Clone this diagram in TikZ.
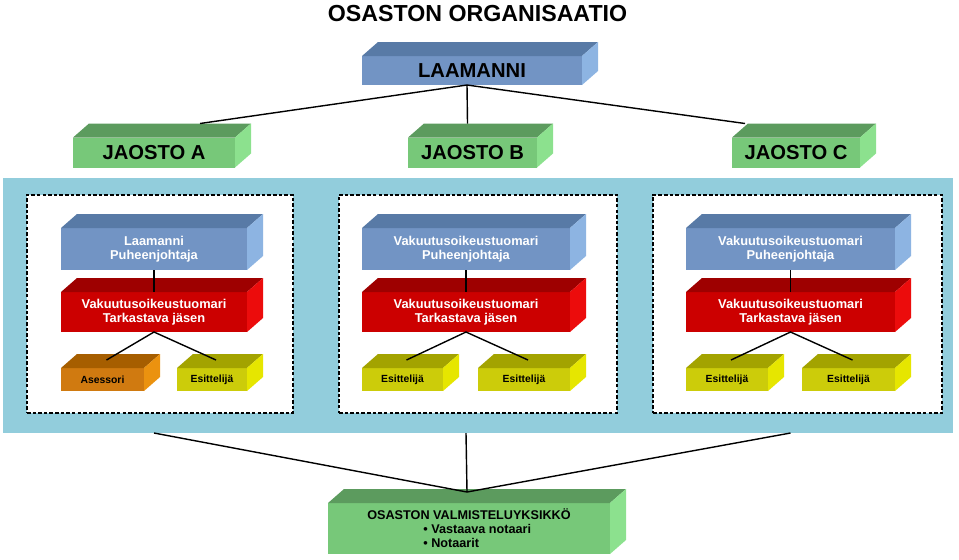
\documentclass[tikz,border=0pt]{standalone}
\usepackage{fontspec}
\setmainfont{Liberation Sans}
\usetikzlibrary{calc}

\definecolor{blueFront}{RGB}{114,148,196}
\definecolor{blueTop}{RGB}{88,122,166}
\definecolor{blueSide}{RGB}{141,180,226}
\definecolor{greenFront}{RGB}{119,200,121}
\definecolor{greenTop}{RGB}{92,155,94}
\definecolor{greenSide}{RGB}{140,225,142}
\definecolor{redFront}{RGB}{204,0,0}
\definecolor{redTop}{RGB}{158,0,0}
\definecolor{redSide}{RGB}{236,12,12}
\definecolor{orangeFront}{RGB}{208,122,16}
\definecolor{orangeTop}{RGB}{166,94,0}
\definecolor{orangeSide}{RGB}{235,146,15}
\definecolor{yellowFront}{RGB}{204,204,10}
\definecolor{yellowTop}{RGB}{163,163,0}
\definecolor{yellowSide}{RGB}{230,230,0}
\definecolor{bandBlue}{RGB}{146,205,220}

\begin{document}
\begin{tikzpicture}[x = 0.02cm, y = -0.02cm]
			% Fix the canvas to the size of the sheet
			\useasboundingbox (0, 0) rectangle (959, 559);

			% Box styles
			\tikzset{
				wh/.style 2 args = {minimum width = #1*0.02cm, minimum height = #2*0.02cm},
				slab/.style = {rectangle, inner sep = 0pt, outer sep = 0pt, align = center, fill = #1Front},
				big/.style = {font = \fontsize{11.5}{13}\selectfont\bfseries},
				mid/.style = {font = \fontsize{7.3}{7.8}\selectfont\bfseries, text = white},
				small/.style = {font = \fontsize{5.9}{7}\selectfont\bfseries},
				panel/.style = {draw, fill = white, dash pattern = on 2pt off 1.2pt, line width = 0.6pt, inner sep = 0pt, outer sep = 0pt},
				link/.style = {black, line width = 0.8pt}
			}

			% Title
			\node[font = \fontsize{13.2}{15}\selectfont\bfseries] (title) at (477.5, 14) {OSASTON ORGANISAATIO};

			% Head and the three sections
			\node[slab = blue, big, wh = {220}{29}] (laamanni) at (472, 70.5) {LAAMANNI};
			\node[slab = green, big, wh = {162}{30}] (jaostoA) at (154, 152.5) {JAOSTO A};
			\node[slab = green, big, wh = {129}{30}] (jaostoB) at (472.5, 152.5) {JAOSTO B};
			\node[slab = green, big, wh = {128}{30}] (jaostoC) at (796, 152.5) {JAOSTO C};

			% Light blue band with the dashed panels
			\node[fill = bandBlue, inner sep = 0pt, outer sep = 0pt, wh = {950}{255}] (band) at (478, 305.5) {};
			\node[panel, wh = {266}{218}] (panelA) at (160, 304) {};
			\node[panel, wh = {278}{218}] (panelB) at (478, 304) {};
			\node[panel, wh = {289}{218}] (panelC) at (797.5, 304) {};

			% Panel A
			\node[slab = blue, mid, wh = {186}{42}] (puhA) at (154, 249) {Laamanni\\Puheenjohtaja};
			\node[slab = red, mid, wh = {186}{40}] (tarA) at (154, 312) {Vakuutusoikeustuomari\\Tarkastava jäsen};
			\node[slab = orange, small, wh = {83}{23}] (subA1) at (102.5, 379.5) {Asessori};
			\node[slab = yellow, small, wh = {70}{23}] (subA2) at (212, 379.5) {Esittelijä};

			% Panel B
			\node[slab = blue, mid, wh = {208}{42}] (puhB) at (466, 249) {Vakuutusoikeustuomari\\Puheenjohtaja};
			\node[slab = red, mid, wh = {208}{40}] (tarB) at (466, 312) {Vakuutusoikeustuomari\\Tarkastava jäsen};
			\node[slab = yellow, small, wh = {81}{23}] (subB1) at (402.5, 379.5) {Esittelijä};
			\node[slab = yellow, small, wh = {92}{23}] (subB2) at (524, 379.5) {Esittelijä};

			% Panel C
			\node[slab = blue, mid, wh = {209}{42}] (puhC) at (790.5, 249) {Vakuutusoikeustuomari\\Puheenjohtaja};
			\node[slab = red, mid, wh = {209}{40}] (tarC) at (790.5, 312) {Vakuutusoikeustuomari\\Tarkastava jäsen};
			\node[slab = yellow, small, wh = {82}{23}] (subC1) at (727, 379.5) {Esittelijä};
			\node[slab = yellow, small, wh = {93}{23}] (subC2) at (848.5, 379.5) {Esittelijä};

			% Preparation unit
			\node[slab = green, wh = {282}{51}, font = \fontsize{7.2}{8}\selectfont\bfseries] (unit) at (469, 528.5)
				{OSASTON VALMISTELUYKSIKKÖ\\\makebox[52pt][l]{\textbullet\ Vastaava notaari}\\\makebox[52pt][l]{\textbullet\ Notaarit}};

			% Draw the top and side faces of every box
			\foreach \n/\col in {laamanni/blue, jaostoA/green, jaostoB/green, jaostoC/green,
					puhA/blue, puhB/blue, puhC/blue, tarA/red, tarB/red, tarC/red,
					subA1/orange, subA2/yellow, subB1/yellow, subB2/yellow, subC1/yellow, subC2/yellow, unit/green}{
				\fill[\col Top] (\n.north west) -- ++(16, -14) -- ([shift = {(16, -14)}]\n.north east) -- (\n.north east) -- cycle;
				\fill[\col Side] (\n.north east) -- ++(16, -14) -- ([shift = {(16, -14)}]\n.south east) -- (\n.south east) -- cycle;
			}

			% Draw the lines from the head to the sections
			\draw[link] ([shift = {(-5, 0)}]laamanni.south) -- ([shift = {(46, -14)}]jaostoA.north);
			\draw[link] ([shift = {(-5, 0)}]laamanni.south) -- ([shift = {(-5, -14)}]jaostoB.north);
			\draw[link] ([shift = {(-5, 0)}]laamanni.south) -- ([shift = {(-51, -14)}]jaostoC.north);

			% Draw the lines inside the panels
			\foreach \s in {A, B, C}{
				\draw[link] (puh\s.south) -- (tar\s.north);
				\draw[link] ([shift = {(4, -8)}]sub\s1.north) -- (tar\s.south) -- ([shift = {(4, -8)}]sub\s2.north);
				\draw[link] (puh\s.south |- band.south) -- ([shift = {(-2, -11)}]unit.north);
			}

		\end{tikzpicture}
\end{document}
